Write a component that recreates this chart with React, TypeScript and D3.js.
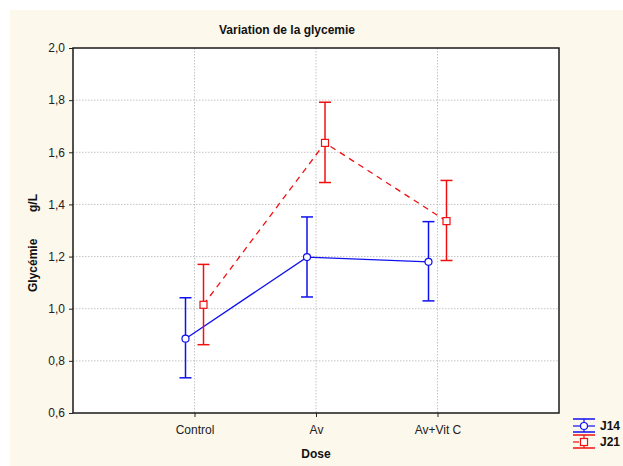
import React, { useEffect, useRef } from 'react';
import * as d3 from 'd3';

const doses = ['Control', 'Av', 'Av+Vit C'];
const yTicks = [0.6, 0.8, 1.0, 1.2, 1.4, 1.6, 1.8, 2.0];

// J14 means with lower / upper error limits
const j14Mean = [0.885, 1.198, 1.18];
const j14Low = [0.735, 1.045, 1.03];
const j14High = [1.042, 1.352, 1.334];

// J21 means with lower / upper error limits
const j21Mean = [1.015, 1.636, 1.336];
const j21Low = [0.862, 1.484, 1.185];
const j21High = [1.17, 1.792, 1.492];

const App = () => {
  const svgRef = useRef<SVGSVGElement>(null);

  useEffect(() => {
    const width = 623;
    const height = 466;
    const margin = { top: 48, right: 64, bottom: 53, left: 73 };
    const font = 'Arial, "Liberation Sans", sans-serif';

    const svg = d3.select(svgRef.current);
    svg.selectAll('*').remove();

    // cream page background
    svg.append('rect')
      .attr('x', 10).attr('y', 10)
      .attr('width', width - 10).attr('height', height - 10)
      .attr('fill', '#fdf8ec');

    const x = d3.scalePoint<string>()
      .domain(doses)
      .range([margin.left, width - margin.right])
      .padding(1);

    const y = d3.scaleLinear()
      .domain([0.6, 2.0])
      .range([height - margin.bottom, margin.top]);

    const left = margin.left;
    const right = width - margin.right;
    const top = margin.top;
    const bottom = height - margin.bottom;

    svg.append('rect')
      .attr('x', left).attr('y', top)
      .attr('width', right - left).attr('height', bottom - top)
      .attr('fill', '#ffffff');

    // grid lines
    const grid = svg.append('g');
    grid.selectAll('.hg')
      .data(yTicks.slice(1, -1))
      .enter()
      .append('line')
      .attr('x1', left).attr('x2', right)
      .attr('y1', d => y(d)).attr('y2', d => y(d))
      .attr('stroke', '#c4c4c4')
      .attr('stroke-width', 1)
      .attr('stroke-dasharray', '1.5,1.5');
    grid.selectAll('.vg')
      .data(doses)
      .enter()
      .append('line')
      .attr('x1', d => x(d)!).attr('x2', d => x(d)!)
      .attr('y1', top).attr('y2', bottom)
      .attr('stroke', '#c4c4c4')
      .attr('stroke-width', 1)
      .attr('stroke-dasharray', '1.5,1.5');

    // axes
    const yAxis = svg.append('g')
      .attr('transform', `translate(${left},0)`)
      .call(d3.axisLeft(y).tickValues(yTicks).tickSize(4).tickPadding(4)
        .tickFormat(d => d3.format('.1f')(d as number).replace('.', ',')));
    yAxis.select('.domain').remove();
    yAxis.selectAll('text').attr('font-size', 12).attr('font-family', font).attr('fill', '#222');
    yAxis.selectAll('line').attr('stroke', '#222');

    const xAxis = svg.append('g')
      .attr('transform', `translate(0,${bottom})`)
      .call(d3.axisBottom(x).tickSize(4).tickPadding(8));
    xAxis.select('.domain').remove();
    xAxis.selectAll('text').attr('font-size', 12).attr('font-family', font).attr('fill', '#222');
    xAxis.selectAll('line').attr('stroke', '#222');

    // plot frame
    svg.append('rect')
      .attr('x', left).attr('y', top)
      .attr('width', right - left).attr('height', bottom - top)
      .attr('fill', 'none')
      .attr('stroke', '#1a1a1a')
      .attr('stroke-width', 1.5);

    const series = [
      { name: 'J14', mean: j14Mean, low: j14Low, high: j14High, color: '#1010f0', dx: -9, dash: null, shape: 'circle' },
      { name: 'J21', mean: j21Mean, low: j21Low, high: j21High, color: '#f01010', dx: 9, dash: '6,5', shape: 'square' },
    ];

    series.forEach(s => {
      const g = svg.append('g');
      const line = d3.line<number>()
        .x((_, i) => x(doses[i])! + s.dx)
        .y(d => y(d));
      g.append('path')
        .datum(s.mean)
        .attr('d', line)
        .attr('fill', 'none')
        .attr('stroke', s.color)
        .attr('stroke-width', 1.3)
        .attr('stroke-dasharray', s.dash);

      s.mean.forEach((m, i) => {
        const cx = x(doses[i])! + s.dx;
        g.append('line')
          .attr('x1', cx).attr('x2', cx)
          .attr('y1', y(s.low[i])).attr('y2', y(s.high[i]))
          .attr('stroke', s.color).attr('stroke-width', 1.5);
        [s.low[i], s.high[i]].forEach(v => {
          g.append('line')
            .attr('x1', cx - 6).attr('x2', cx + 6)
            .attr('y1', y(v)).attr('y2', y(v))
            .attr('stroke', s.color).attr('stroke-width', 1.5);
        });
        if (s.shape === 'circle') {
          g.append('circle')
            .attr('cx', cx).attr('cy', y(m)).attr('r', 3.5)
            .attr('fill', '#fff').attr('stroke', s.color).attr('stroke-width', 1.2);
        } else {
          g.append('rect')
            .attr('x', cx - 3.5).attr('y', y(m) - 3.5)
            .attr('width', 7).attr('height', 7)
            .attr('fill', '#fff').attr('stroke', s.color).attr('stroke-width', 1.2);
        }
      });
    });

    // titles
    svg.append('text')
      .attr('x', 287).attr('y', 34)
      .attr('text-anchor', 'middle')
      .attr('font-family', font).attr('font-size', 12).attr('font-weight', 'bold')
      .attr('fill', '#111')
      .text('Variation de la glycemie');

    svg.append('text')
      .attr('x', (left + right) / 2).attr('y', 458)
      .attr('text-anchor', 'middle')
      .attr('font-family', font).attr('font-size', 12).attr('font-weight', 'bold')
      .attr('fill', '#111')
      .text('Dose');

    svg.append('text')
      .attr('transform', `translate(37,243) rotate(-90)`)
      .attr('text-anchor', 'middle')
      .attr('font-family', font).attr('font-size', 12).attr('font-weight', 'bold')
      .attr('fill', '#111')
      .style('white-space', 'pre')
      .text('Glycémie        g/L');

    // legend
    const legendY = [426, 442];
    series.forEach((s, i) => {
      const cy = legendY[i];
      const lg = svg.append('g');
      [cy - 7, cy + 6].forEach(ly => {
        lg.append('line')
          .attr('x1', 573).attr('x2', 595).attr('y1', ly).attr('y2', ly)
          .attr('stroke', s.color).attr('stroke-width', 1.5);
      });
      lg.append('line')
        .attr('x1', 584).attr('x2', 584).attr('y1', cy - 7).attr('y2', cy + 6)
        .attr('stroke', s.color).attr('stroke-width', 1.2);
      lg.append('line')
        .attr('x1', 573).attr('x2', s.dash ? 579 : 595).attr('y1', cy).attr('y2', cy)
        .attr('stroke', s.color).attr('stroke-width', 1.2);
      if (s.shape === 'circle') {
        lg.append('circle').attr('cx', 584).attr('cy', cy).attr('r', 3.5)
          .attr('fill', '#fff').attr('stroke', s.color).attr('stroke-width', 1.2);
      } else {
        lg.append('rect').attr('x', 580.5).attr('y', cy - 3.5).attr('width', 7).attr('height', 7)
          .attr('fill', '#fff').attr('stroke', s.color).attr('stroke-width', 1.2);
      }
      lg.append('text')
        .attr('x', 600).attr('y', cy + 4)
        .attr('font-family', font).attr('font-size', 12).attr('font-weight', 'bold')
        .attr('fill', '#111')
        .text(s.name);
    });
  }, []);

  return (
    <svg ref={svgRef} width={623} height={466}
      style={{ position: 'absolute', left: 0, top: 0, background: '#fff' }} />
  );
};

export default App;
